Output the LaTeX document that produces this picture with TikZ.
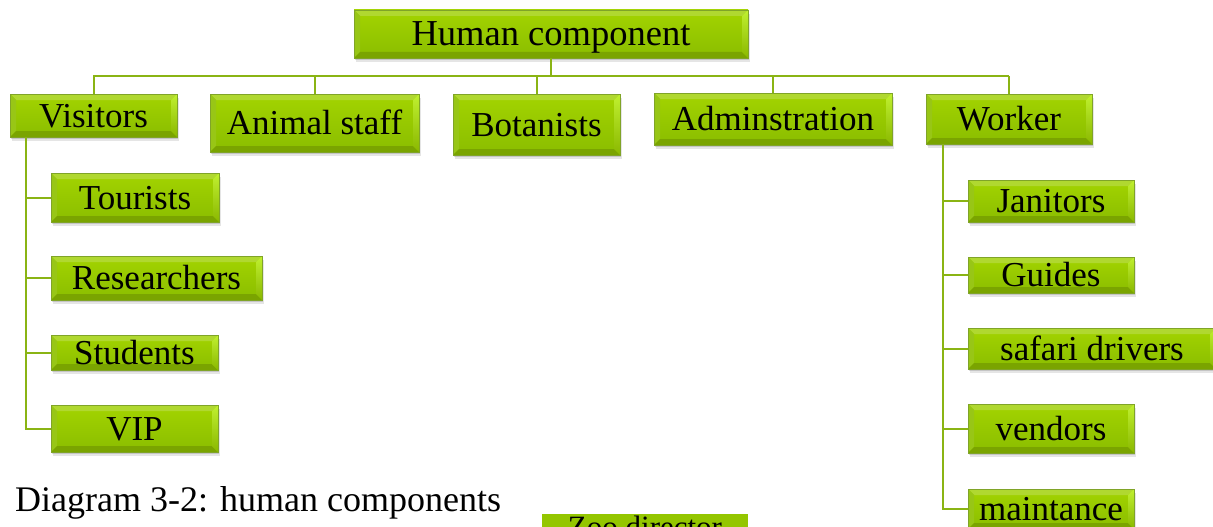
\documentclass[tikz,border=0pt]{standalone}
\usepackage{fontspec}
\setmainfont{Liberation Serif}
\usetikzlibrary{calc,shadows}

\definecolor{leafTop}{RGB}{163,212,0}
\definecolor{leafBot}{RGB}{138,189,0}
\definecolor{bevTop}{RGB}{176,216,48}
\definecolor{bevLeft}{RGB}{152,198,22}
\definecolor{bevBot}{RGB}{122,164,0}
\definecolor{bevRightHi}{RGB}{192,240,48}
\definecolor{bevRightLo}{RGB}{138,184,0}
\definecolor{leafEdge}{RGB}{128,164,40}
\definecolor{stem}{RGB}{138,180,20}
\definecolor{flatLeaf}{RGB}{148,198,0}

\tikzset{
  bevelbox/.style={
    rectangle, inner sep=0pt, draw=leafEdge, line width=0.6pt,
    top color=leafTop, bottom color=leafBot,
    text height=23pt, text depth=0pt,
    font=\fontsize{35}{40}\selectfont,
    drop shadow={shadow xshift=1.5pt, shadow yshift=-4pt, opacity=.10, fill=black},
    drop shadow={shadow xshift=0.8pt, shadow yshift=-2pt, opacity=.14, fill=black},
    path picture={
      \fill[bevTop] (path picture bounding box.north west) -- (path picture bounding box.north east)
        -- ([shift={(-6pt,-6pt)}]path picture bounding box.north east)
        -- ([shift={(6pt,-6pt)}]path picture bounding box.north west) -- cycle;
      \fill[bevLeft] (path picture bounding box.north west) -- (path picture bounding box.south west)
        -- ([shift={(6pt,6pt)}]path picture bounding box.south west)
        -- ([shift={(6pt,-6pt)}]path picture bounding box.north west) -- cycle;
      \fill[bevBot] (path picture bounding box.south west) -- (path picture bounding box.south east)
        -- ([shift={(-6pt,6pt)}]path picture bounding box.south east)
        -- ([shift={(6pt,6pt)}]path picture bounding box.south west) -- cycle;
      \shade[top color=bevRightHi, bottom color=bevRightLo]
        (path picture bounding box.north east) -- (path picture bounding box.south east)
        -- ([shift={(-6pt,6pt)}]path picture bounding box.south east)
        -- ([shift={(-6pt,-6pt)}]path picture bounding box.north east) -- cycle;
    }
  },
  flatbox/.style={rectangle, inner sep=0pt, fill=flatLeaf,
    text height=20.5pt, text depth=0pt, font=\fontsize{31}{36}\selectfont},
  stemline/.style={draw=stem, line width=2pt},
  caption/.style={inner sep=0pt, font=\fontsize{36}{42}\selectfont}
}

\begin{document}
\begin{tikzpicture}[x=1pt,y=-1pt]
\useasboundingbox (0,0) rectangle (1213,527);

% root and first level
\node[bevelbox, minimum width=394pt, minimum height=48pt,
      font=\fontsize{36.5}{42}\selectfont, text height=24pt]
  (root) at (551,34) {Human component};
\node[bevelbox, minimum width=167pt, minimum height=43pt] (vis) at (93.5,115.5) {Visitors};
\node[bevelbox, minimum width=209pt, minimum height=58pt] (ani) at (314.5,123) {Animal staff};
\node[bevelbox, minimum width=167pt, minimum height=61pt] (bot) at (536.5,124.5) {Botanists};
\node[bevelbox, minimum width=238pt, minimum height=52pt] (adm) at (773,119) {Adminstration};
\node[bevelbox, minimum width=166pt, minimum height=50pt] (wor) at (1009,119) {Worker};

% visitors branch
\node[bevelbox, minimum width=168pt, minimum height=49pt] (tou) at (135,197.5) {Tourists};
\node[bevelbox, minimum width=211pt, minimum height=44pt] (res) at (156.5,278) {Researchers};
\node[bevelbox, minimum width=167pt, minimum height=35pt] (stu) at (134.5,352.5) {Students};
\node[bevelbox, minimum width=167pt, minimum height=47pt] (vip) at (134.5,428.5) {VIP};

% worker branch
\node[bevelbox, minimum width=166pt, minimum height=42pt] (jan) at (1051,201) {Janitors};
\node[bevelbox, minimum width=166pt, minimum height=36pt] (gui) at (1051,275) {Guides};
\node[bevelbox, minimum width=248pt, minimum height=41pt] (saf) at (1092,348.5) {safari drivers};
\node[bevelbox, minimum width=166pt, minimum height=49pt] (ven) at (1051,428.5) {vendors};
\node[bevelbox, minimum width=166pt, minimum height=40pt] (mai) at (1051,509) {maintance};

% caption and the top of the next chart
\node[caption, anchor=base west] (cap) at (15,511) {Diagram 3-2: human components};
\node[flatbox, minimum width=206pt, minimum height=27pt] (zoo) at (645,527.5) {Zoo director};

% connectors
\coordinate (bar) at (93,76);
\coordinate (barR) at (1009,76);
\draw[stemline] (bar) -- (barR);
\draw[stemline] (root.south) -- (root.south |- bar);
\foreach \n in {vis,ani,bot,adm,wor}
  \draw[stemline] (\n.north) -- (\n.north |- bar);

\coordinate (vt) at ([xshift=16pt]vis.south west);
\draw[stemline] (vt) |- (vip.west);
\foreach \n in {tou,res,stu}
  \draw[stemline] (vt |- \n.west) -- (\n.west);

\coordinate (wt) at ([xshift=17pt]wor.south west);
\draw[stemline] (wt) |- (mai.west);
\foreach \n in {jan,gui,saf,ven}
  \draw[stemline] (wt |- \n.west) -- (\n.west);
\end{tikzpicture}
\end{document}
